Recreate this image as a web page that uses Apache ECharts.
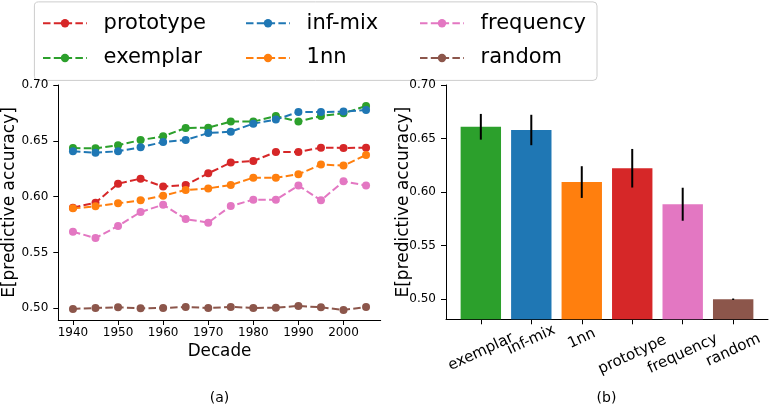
<!DOCTYPE html>
<html>
<head>
<meta charset="utf-8">
<script src="https://cdn.jsdelivr.net/npm/echarts@6/dist/echarts.min.js"></script>
<style>html,body{margin:0;padding:0;background:#fff;}#c{width:771px;height:407px;}</style>
</head>
<body>
<div id="c"></div>
<script>
// ---- data ----
const decades = [1940,1945,1950,1955,1960,1965,1970,1975,1980,1985,1990,1995,2000,2005];
const prototype = [0.5901,0.5946,0.6116,0.6161,0.6090,0.6104,0.6209,0.6305,0.6319,0.6400,0.6400,0.6439,0.6436,0.6439];
const exemplar  = [0.6435,0.6433,0.6460,0.6507,0.6540,0.6615,0.6618,0.6672,0.6672,0.6722,0.6672,0.6722,0.6746,0.6812];
const infMix    = [0.6406,0.6394,0.6406,0.6442,0.6489,0.6507,0.6570,0.6582,0.6654,0.6690,0.6758,0.6758,0.6762,0.6776];
const oneNN     = [0.5895,0.5913,0.5940,0.5967,0.6009,0.6059,0.6074,0.6104,0.6170,0.6170,0.6200,0.6287,0.6278,0.6373];
const frequency = [0.5686,0.5629,0.5737,0.5862,0.5928,0.5799,0.5767,0.5916,0.5973,0.5973,0.6099,0.5967,0.6137,0.6099];
const random    = [0.4994,0.5003,0.5009,0.5000,0.5003,0.5012,0.5003,0.5012,0.5003,0.5005,0.5021,0.5009,0.4985,0.5012];

const barNames = ['exemplar','inf-mix','1nn','prototype','frequency','random'];
const barMeans = [0.6610,0.6580,0.6094,0.6223,0.5887,0.5000];
const barErrs  = [0.0120,0.0142,0.0148,0.0180,0.0154,0.0007];

const yTicks = [0.50,0.55,0.60,0.65,0.70];
const xTicksA = [1940,1950,1960,1970,1980,1990,2000];
const barTicks = [0,1,2,3,4,5];

// ---- styles ----
const FONT = 'DejaVu Sans';
const colors = {prototype:'#d62728', exemplar:'#2ca02c', 'inf-mix':'#1f77b4', '1nn':'#ff7f0e', frequency:'#e377c2', random:'#8c564b'};
const lineSeriesDefs = [
  ['prototype', prototype], ['exemplar', exemplar], ['inf-mix', infMix],
  ['1nn', oneNN], ['frequency', frequency], ['random', random]
];
// label vertical shifts (px) for rotated bar labels
const labelShift = [13.7, 1.7, 0.4, 16.5, 15.5, 12];
const ROT = 25;
const rad = ROT * Math.PI / 180;
const rich = {};
labelShift.forEach((d, i) => {
  rich['l' + i] = {fontFamily: FONT, fontSize: 15, color: '#000',
    padding: [2 * d * Math.cos(rad), 2 * d * Math.sin(rad), 0, 0]};
});

const axisLineStyle = {show: true, onZero: false, lineStyle: {color: '#000', width: 1}};

const series = lineSeriesDefs.map(([name, vals]) => ({
  name, type: 'line', xAxisIndex: 0, yAxisIndex: 0,
  data: decades.map((d, i) => [d, vals[i]]),
  symbol: 'circle', symbolSize: 8,
  itemStyle: {color: colors[name]},
  lineStyle: {color: colors[name], width: 2, type: [7.5, 3.3]},
  emphasis: {disabled: true}, animation: false
}));

series.push({
  name: 'bars', type: 'bar', xAxisIndex: 1, yAxisIndex: 1,
  barWidth: 40.4,
  data: barMeans.map((v, i) => ({value: [i, v], itemStyle: {color: colors[barNames[i]]}})),
  animation: false
});
series.push({
  name: 'err', type: 'custom', xAxisIndex: 1, yAxisIndex: 1,
  data: barMeans.map((v, i) => [i, v - barErrs[i], v + barErrs[i]]),
  encode: {x: 0, y: [1, 2]},
  renderItem: (params, api) => {
    const p1 = api.coord([api.value(0), api.value(1)]);
    const p2 = api.coord([api.value(0), api.value(2)]);
    return {type: 'line', shape: {x1: p1[0], y1: p1[1], x2: p2[0], y2: p2[1]},
      style: {stroke: '#000', lineWidth: 2}};
  },
  z: 5, animation: false
});

const legendBase = {
  orient: 'vertical', top: 12.7, itemGap: 13.8, itemWidth: 44, itemHeight: 10.5,
  padding: 0, selectedMode: false,
  textStyle: {fontSize: 21, fontFamily: FONT, color: '#000', padding: [0, 0, 0, 11.6]}
};

const barLabelAxis = (vals, showLine) => ({
  gridIndex: 1, type: 'value', min: -0.69, max: 5.69, position: 'bottom',
  axisLine: showLine ? axisLineStyle : {show: false, onZero: false},
  splitLine: {show: false},
  axisTick: {show: showLine, length: 5, lineStyle: {color: '#000'}, customValues: barTicks},
  axisLabel: {customValues: vals, rotate: ROT, align: 'center', verticalAlign: 'middle', margin: 19,
    hideOverlap: false, showMinLabel: true, showMaxLabel: true,
    formatter: v => { const i = Math.round(v); return '{l' + i + '|' + barNames[i] + '}'; },
    rich: rich, fontSize: 15, color: '#000', fontFamily: FONT}
});

const option = {
  animation: false,
  textStyle: {fontFamily: FONT},
  legend: [
    Object.assign({}, legendBase, {left: 42, data: ['prototype', 'exemplar']}),
    Object.assign({}, legendBase, {left: 245, data: ['inf-mix', '1nn']}),
    Object.assign({}, legendBase, {left: 419, data: ['frequency', 'random']})
  ],
  grid: [
    {left: 58.3, top: 85, width: 322.4, height: 235, containLabel: false},
    {left: 446, top: 85, width: 322, height: 234.3, containLabel: false}
  ],
  xAxis: [
    {
      gridIndex: 0, type: 'value', min: 1936.75, max: 2008.25,
      axisLine: axisLineStyle, splitLine: {show: false},
      axisTick: {show: true, length: 5, lineStyle: {color: '#000'}, customValues: xTicksA},
      axisLabel: {customValues: xTicksA, formatter: v => String(v), fontSize: 12, color: '#000', fontFamily: FONT, margin: 7, hideOverlap: false},
      name: 'Decade', nameLocation: 'middle', nameGap: 23, nameMoveOverlap: false,
      nameTextStyle: {fontSize: 16.8, color: '#000', fontFamily: FONT}
    },
    barLabelAxis([0, 2, 4], true),
    barLabelAxis([1, 3, 5], false)
  ],
  yAxis: [
    {
      gridIndex: 0, type: 'value', min: 0.4895, max: 0.70,
      axisLine: axisLineStyle, splitLine: {show: false},
      axisTick: {show: true, length: 5, lineStyle: {color: '#000'}, customValues: yTicks},
      axisLabel: {customValues: yTicks, formatter: v => v.toFixed(2), fontSize: 12, color: '#000', fontFamily: FONT, margin: 10},
      name: 'E[predictive accuracy]', nameLocation: 'middle', nameGap: 40, nameRotate: 90, nameMoveOverlap: false,
      nameTextStyle: {fontSize: 17, color: '#000', fontFamily: FONT}
    },
    {
      gridIndex: 1, type: 'value', min: 0.4813, max: 0.70,
      axisLine: axisLineStyle, splitLine: {show: false},
      axisTick: {show: true, length: 5, lineStyle: {color: '#000'}, customValues: yTicks},
      axisLabel: {customValues: yTicks, formatter: v => v.toFixed(2), fontSize: 12, color: '#000', fontFamily: FONT, margin: 10},
      name: 'E[predictive accuracy]', nameLocation: 'middle', nameGap: 34, nameRotate: 90, nameMoveOverlap: false,
      nameTextStyle: {fontSize: 17, color: '#000', fontFamily: FONT}
    }
  ],
  graphic: [
    {type: 'rect', z: -1, shape: {x: 34.4, y: 1.9, width: 562.6, height: 78.5, r: 4},
      style: {fill: 'rgba(255,255,255,0.8)', stroke: '#cccccc', lineWidth: 1}},
    {type: 'text', x: 219.5, y: 398, style: {text: '(a)', fill: '#000', font: '14px "DejaVu Sans"', textAlign: 'center', textVerticalAlign: 'middle'}},
    {type: 'text', x: 606.5, y: 398, style: {text: '(b)', fill: '#000', font: '14px "DejaVu Sans"', textAlign: 'center', textVerticalAlign: 'middle'}}
  ],
  series: series
};
const chart = echarts.init(document.getElementById('c'), null, {renderer: 'canvas'});
chart.setOption(option);
</script>
</body>
</html>
